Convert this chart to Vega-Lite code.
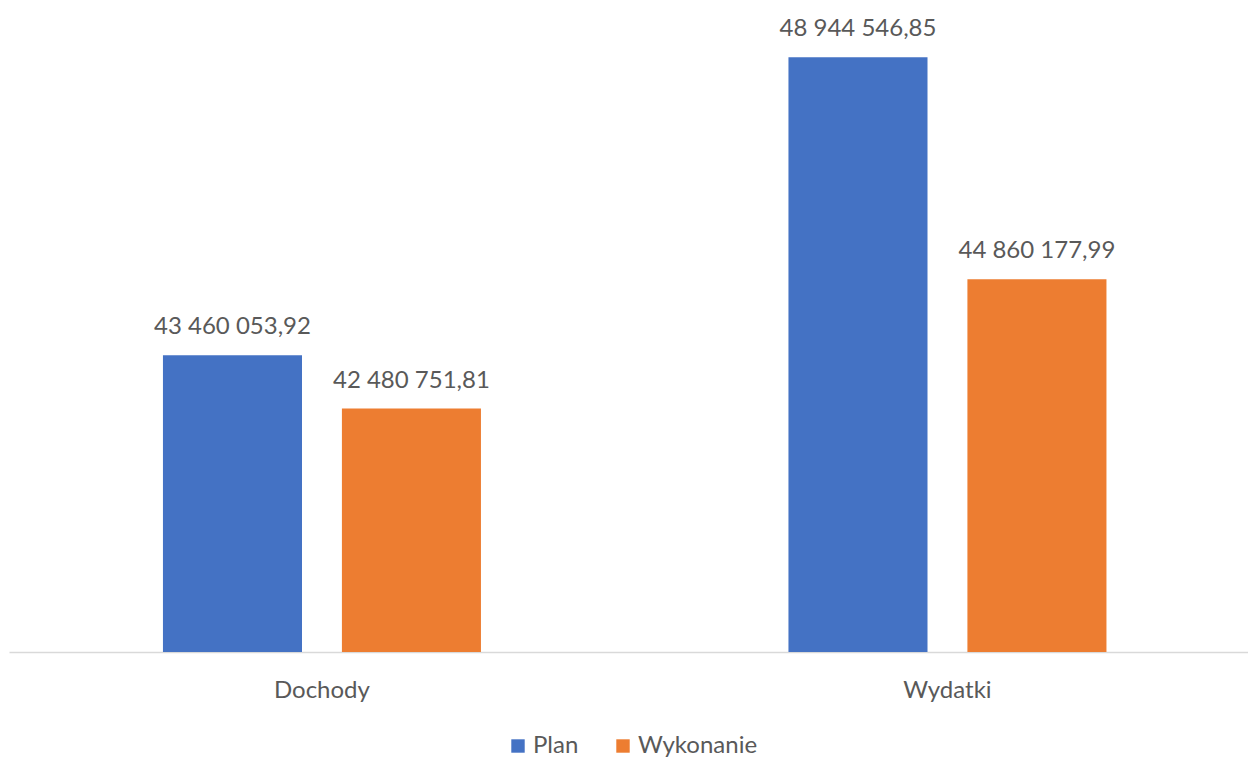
{
  "$schema": "https://vega.github.io/schema/vega-lite/v6.json",
  "width": 1239,
  "height": 652,
  "autosize": {"type": "none"},
  "padding": {"left": 9, "top": 0, "right": 0, "bottom": 111},
  "background": "white",
  "config": {
    "view": {"stroke": null},
    "font": "Lato",
    "locale": {"number": {"decimal": ",", "thousands": " ", "grouping": [3], "currency": ["", ""]}}
  },
  "data": {
    "values": [
      {"kategoria": "Dochody", "seria": "Plan", "wartosc": 43460053.92},
      {"kategoria": "Dochody", "seria": "Wykonanie", "wartosc": 42480751.81},
      {"kategoria": "Wydatki", "seria": "Plan", "wartosc": 48944546.85},
      {"kategoria": "Wydatki", "seria": "Wykonanie", "wartosc": 44860177.99}
    ]
  },
  "encoding": {
    "x": {
      "field": "kategoria", "type": "nominal", "title": null,
      "scale": {"paddingInner": 0.4916, "paddingOuter": 0.2362, "align": 0.521},
      "axis": {"labelAngle": 0, "ticks": false, "tickSize": 0, "labelPadding": 26, "labelFontSize": 24, "labelColor": "#595959", "domainColor": "#d9d9d9", "domainWidth": 1.5, "grid": false}
    },
    "xOffset": {"field": "seria", "type": "nominal", "scale": {"paddingInner": 0.223, "paddingOuter": 0}},
    "y": {
      "field": "wartosc", "type": "quantitative",
      "scale": {"domain": [38000000, 50000000], "zero": false, "nice": false},
      "axis": null
    }
  },
  "layer": [
    {
      "mark": {"type": "bar"},
      "encoding": {
        "y2": {"datum": 38000000},
        "color": {
          "field": "seria", "type": "nominal",
          "scale": {"domain": ["Plan", "Wykonanie"], "range": ["#4472C4", "#ED7D31"]},
          "legend": {
            "title": null, "orient": "none", "direction": "horizontal",
            "legendX": 497, "legendY": 734,
            "symbolType": "square", "symbolSize": 180, "symbolStrokeWidth": 0,
            "labelFontSize": 24, "labelColor": "#595959", "labelOffset": 3, "columnPadding": 32
          }
        }
      }
    },
    {
      "mark": {"type": "text", "baseline": "alphabetic", "dy": -21, "fontSize": 24, "color": "#595959"},
      "encoding": {
        "text": {"field": "wartosc", "type": "quantitative", "format": ",.2f"}
      }
    }
  ]
}
